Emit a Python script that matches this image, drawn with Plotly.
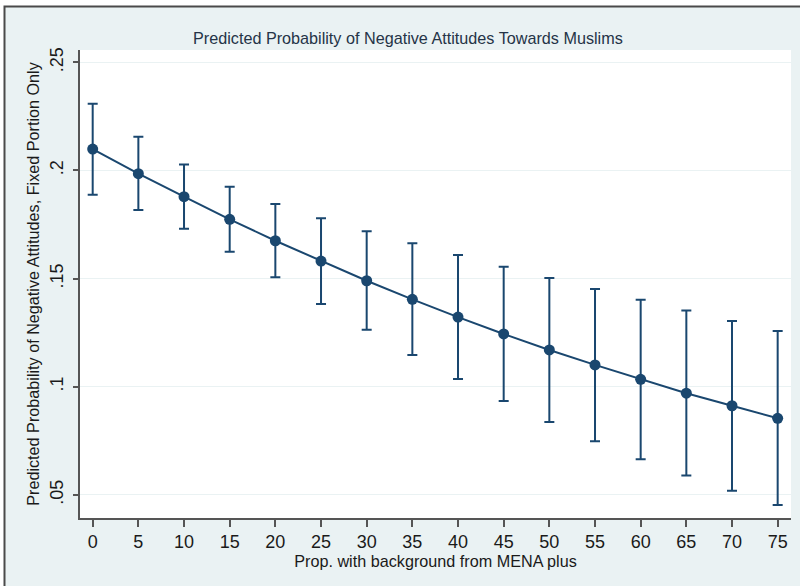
import plotly.graph_objects as go

prop_mena = [0, 5, 10, 15, 20, 25, 30, 35, 40, 45, 50, 55, 60, 65, 70, 75]
pred_prob = [0.2099, 0.1985, 0.1879, 0.1774, 0.1675, 0.1581, 0.1490, 0.1404,
             0.1322, 0.1244, 0.1170, 0.1101, 0.1034, 0.0970, 0.0912, 0.0854]
ci_upper = [0.2309, 0.2156, 0.2027, 0.1925, 0.1845, 0.1779, 0.1719, 0.1663,
            0.1609, 0.1555, 0.1503, 0.1452, 0.1402, 0.1352, 0.1304, 0.1258]
ci_lower = [0.1888, 0.1817, 0.1731, 0.1624, 0.1506, 0.1383, 0.1264, 0.1147,
            0.1036, 0.0934, 0.0837, 0.0748, 0.0665, 0.0589, 0.0519, 0.0453]
y_tickvals = [0.05, 0.10, 0.15, 0.20, 0.25]
y_ticktext = [".05", ".1", ".15", ".2", ".25"]

navy = "#1a476f"
bg = "#eaf2f3"

err_plus = [u - p for u, p in zip(ci_upper, pred_prob)]
err_minus = [p - l for p, l in zip(pred_prob, ci_lower)]

fig = go.Figure()
fig.add_trace(go.Scatter(
    x=prop_mena, y=pred_prob, mode="lines+markers",
    line=dict(color=navy, width=2),
    marker=dict(color=navy, size=11),
    error_y=dict(type="data", symmetric=False, array=err_plus, arrayminus=err_minus,
                 color=navy, thickness=2, width=5),
    showlegend=False,
))

W, H = 800, 586
L, R, T, B = 80, 9, 50, 68
pw, ph = W - L - R, H - T - B

def px(x):
    return (x - L) / pw

def py(y):
    return (H - B - y) / ph

shapes = [
    dict(type="rect", xref="paper", yref="paper", layer="below",
         x0=px(4.5), x1=px(820), y0=py(6.5), y1=py(600),
         fillcolor=bg, line=dict(color="#4a4a4a", width=2)),
    dict(type="rect", xref="paper", yref="paper", layer="below",
         x0=0, x1=1, y0=0, y1=1, fillcolor="white", line=dict(width=0)),
]

fig.update_layout(
    width=W, height=H,
    margin=dict(l=L, r=R, t=T, b=B, autoexpand=False),
    paper_bgcolor="white", plot_bgcolor="white",
    font=dict(family="Liberation Sans, Arial, sans-serif", color="#1a1a1a"),
    shapes=shapes,
    annotations=[dict(
        text="Predicted Probability of Negative Attitudes Towards Muslims",
        xref="paper", yref="paper", x=px(408), y=py(38),
        xanchor="center", yanchor="middle", showarrow=False,
        font=dict(size=16.2, color="#253447"),
    )],
    xaxis=dict(
        range=[-1.39, 76.46], tickvals=prop_mena,
        showgrid=False, zeroline=False,
        showline=True, linecolor="#555555", linewidth=1.5,
        ticks="outside", ticklen=7, tickcolor="#555555", tickwidth=1.5,
        tickfont=dict(size=18, color="#1a1a1a"),
        title=dict(text="Prop. with background from MENA plus",
                   font=dict(size=16.2, color="#1a1a1a"), standoff=1),
    ),
    yaxis=dict(
        range=[0.0393, 0.2557], tickvals=y_tickvals, ticktext=y_ticktext,
        tickangle=-90, ticklabelstandoff=3,
        showgrid=True, gridcolor=bg, gridwidth=1.2, zeroline=False,
        showline=True, linecolor="#555555", linewidth=1.5,
        ticks="outside", ticklen=5, tickcolor="#555555", tickwidth=1.5,
        tickfont=dict(size=18, color="#1a1a1a"),
        title=dict(text="Predicted Probability of Negative Attitudes, Fixed Portion Only",
                   font=dict(size=16.2, color="#1a1a1a"), standoff=3),
    ),
)

fig.write_html("out.html", config={"displayModeBar": False},
               post_script="document.body.style.margin='0px';document.body.style.overflow='hidden';")
